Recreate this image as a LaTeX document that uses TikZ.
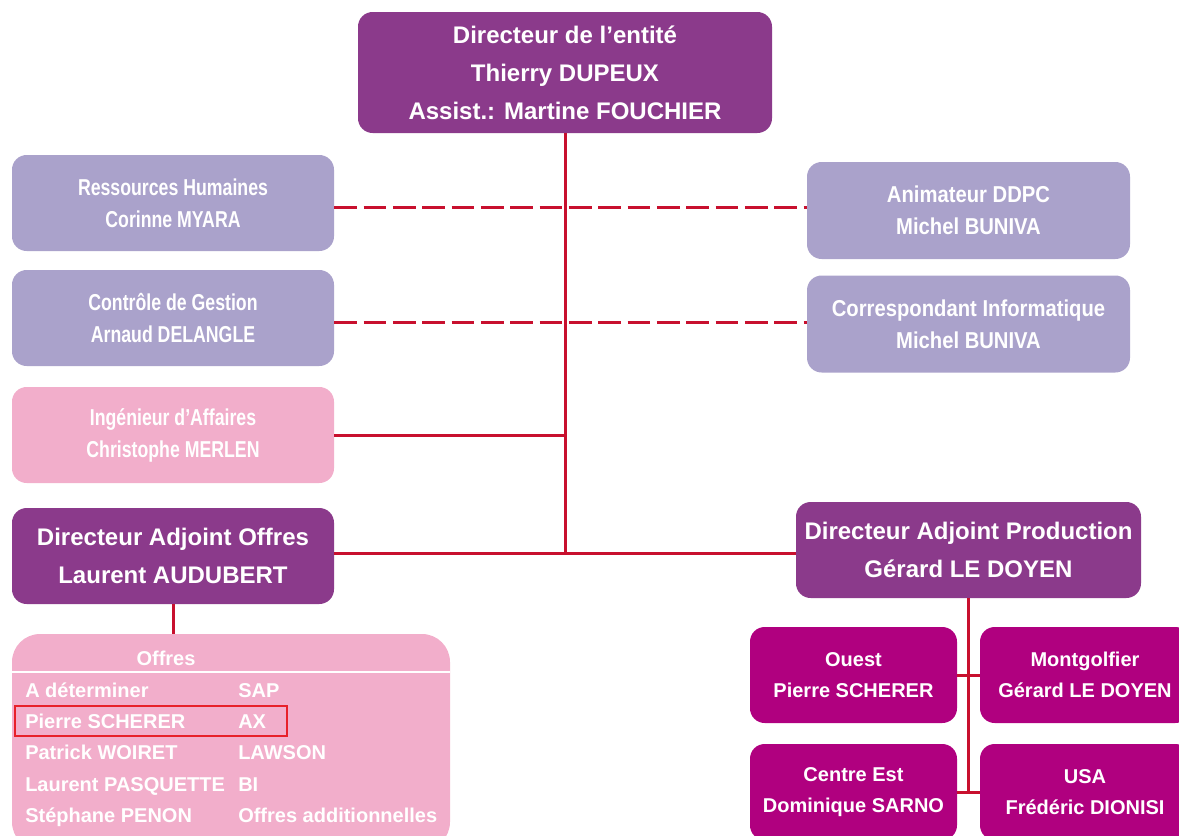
\documentclass[tikz,border=0pt]{standalone}
\usepackage{fontspec}
\setmainfont{Liberation Sans}
\newfontfamily\condL[FakeStretch=0.77]{Liberation Sans}
\newfontfamily\condR[FakeStretch=0.88]{Liberation Sans}
\usetikzlibrary{calc}

\definecolor{dirpurple}{HTML}{8B3A8B}
\definecolor{staffviolet}{HTML}{AAA2CB}
\definecolor{offerpink}{HTML}{F2AECB}
\definecolor{sitemagenta}{HTML}{B0007F}
\definecolor{linkred}{HTML}{C8102E}
\definecolor{markred}{HTML}{E8202A}

\tikzset{
  box/.style={rounded corners=11pt, text=white, align=center, inner sep=0pt},
  director/.style={box, fill=dirpurple, font=\fontsize{18}{28.5}\selectfont\bfseries},
  staffleft/.style={box, fill=staffviolet, minimum width=241.5pt, minimum height=72pt,
    font=\condL\fontsize{17.25}{24}\selectfont\bfseries},
  staffright/.style={box, fill=staffviolet, minimum width=242.25pt, minimum height=72.75pt,
    font=\condR\fontsize{17.25}{24}\selectfont\bfseries},
  engineer/.style={staffleft, fill=offerpink},
  site/.style={box, fill=sitemagenta, minimum width=155.25pt, minimum height=72pt,
    font=\fontsize{15}{23}\selectfont\bfseries},
  siteR/.style={site, minimum width=157.5pt},
  link/.style={draw=linkred, line width=2.25pt},
  dottedlink/.style={link, dash pattern=on 17pt off 5pt},
  entry/.style={anchor=base west, inner sep=0pt, text=white, font=\fontsize{15}{18}\selectfont\bfseries},
}

\begin{document}
\begin{tikzpicture}[x=0.75pt,y=-0.75pt]
\useasboundingbox (0,0) rectangle (1179,836);
\clip (0,0) rectangle (1179,836);

% management
\node[director, minimum width=310.5pt, minimum height=90.75pt] (top) at (565,72.5)
  {Directeur de l’entité\\Thierry DUPEUX\\Assist.: Martine FOUCHIER};

% support functions
\node[staffleft] (rh) at (173,203) {Ressources Humaines\\Corinne MYARA};
\node[staffleft] (cg) at (173,318) {Contrôle de Gestion\\Arnaud DELANGLE};
\node[engineer] (ing) at (173,435) {Ingénieur d’Affaires\\Christophe MERLEN};
\node[staffright] (anim) at (968.5,210.5) {Animateur DDPC\\Michel BUNIVA};
\node[staffright] (corr) at (968.5,324) {Correspondant Informatique\\Michel BUNIVA};

% deputy directors
\node[director, minimum width=241.5pt, minimum height=72pt] (dao) at (173,556)
  {Directeur Adjoint Offres\\Laurent AUDUBERT};
\node[director, minimum width=258.75pt, minimum height=72pt] (dap) at (968.5,550)
  {Directeur Adjoint Production\\Gérard LE DOYEN};

% production sites
\node[site] (ouest) at (853.5,675) {Ouest\\Pierre SCHERER};
\node[siteR] (mont) at (1085,675) {Montgolfier\\Gérard LE DOYEN};
\node[site] (centre) at (853.5,792) {Centre Est\\Dominique SARNO};
\node[siteR] (usa) at (1085,792) {USA\\Frédéric DIONISI};

% offers panel
\node[box, rounded corners=21pt, fill=offerpink, minimum width=328.5pt, minimum height=162pt]
  (offres) at (231,742) {};
\node[entry, anchor=center] (offtitle) at (166,658) {Offres};
\draw[white, line width=1.5pt] (offres.west |- 0,672) -- (offres.east |- 0,672);

\node[entry] (p1) at (25,697) {A déterminer};
\node[entry] (s1) at (238,697) {SAP};
\node[entry] (p2) at (25,728) {Pierre SCHERER};
\node[entry] (s2) at (238,728) {AX};
\node[entry] (p3) at (25,759) {Patrick WOIRET};
\node[entry] (s3) at (238,759) {LAWSON};
\node[entry] (p4) at (25,791) {Laurent PASQUETTE};
\node[entry] (s4) at (238,791) {BI};
\node[entry] (p5) at (25,822) {Stéphane PENON};
\node[entry] (s5) at (238,822) {Offres additionnelles};

\node[draw=markred, line width=1.2pt, inner sep=0pt, minimum width=204pt, minimum height=22.5pt]
  (mark) at (151,721) {};

% hierarchy connectors
\draw[link] (top.south) -- (top.south |- 0,553);
\draw[dottedlink] (rh.east |- 0,207) -- (anim.west |- 0,207);
\draw[dottedlink] (cg.east |- 0,322) -- (corr.west |- 0,322);
\draw[link] (ing.east) -- (ing.east -| top.south);
\draw[link] (dao.east |- 0,553) -- (dap.west |- 0,553);
\draw[link] (dao.south) -- (dao.south |- offres.north);
\draw[link] (dap.south) -- (dap.south |- centre.east);
\draw[link] (ouest.east) -- (mont.west);
\draw[link] (centre.east) -- (usa.west);
\end{tikzpicture}
\end{document}
